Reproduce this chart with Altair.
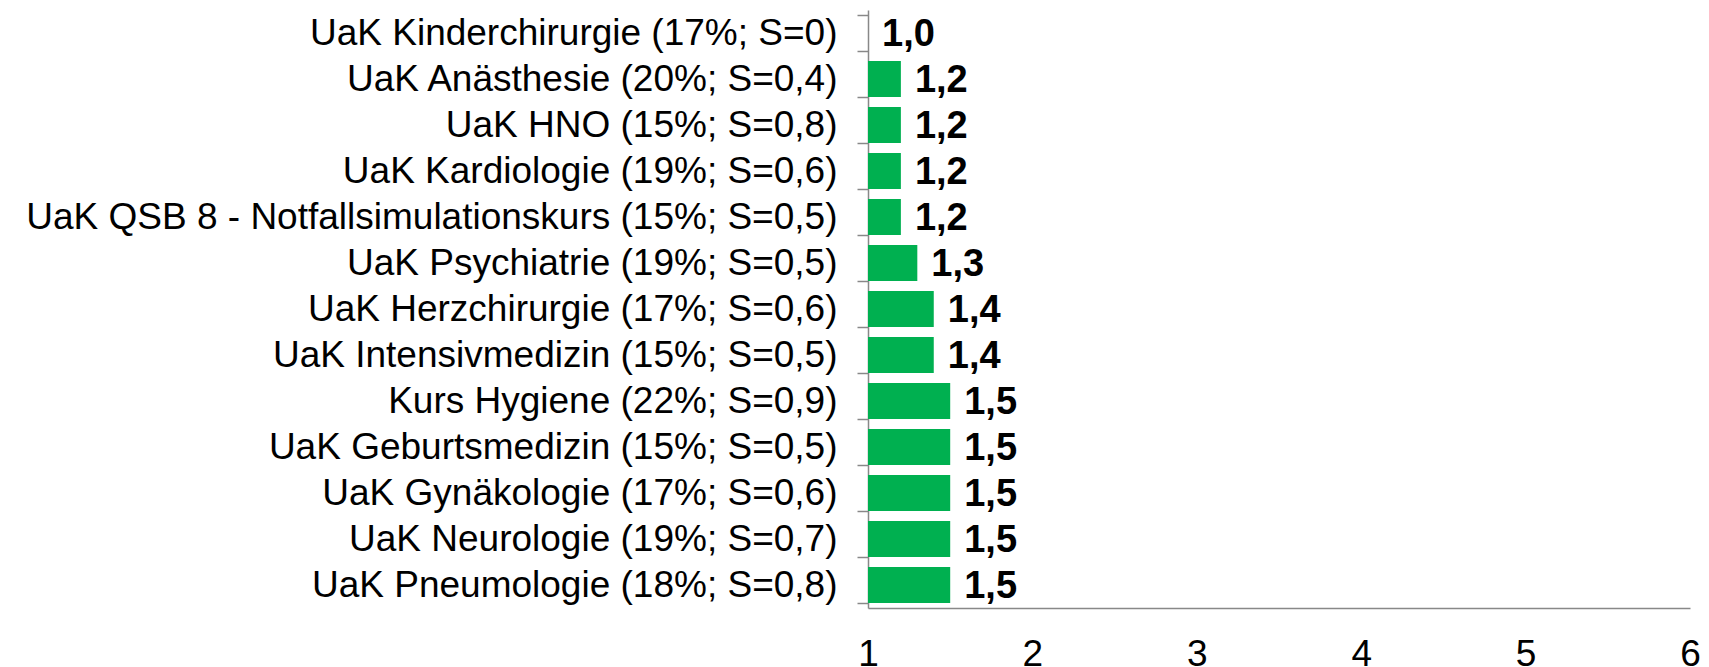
import altair as alt
import pandas as pd

categories = [
    "UaK Kinderchirurgie (17%; S=0)",
    "UaK Anästhesie (20%; S=0,4)",
    "UaK HNO (15%; S=0,8)",
    "UaK Kardiologie (19%; S=0,6)",
    "UaK QSB 8 - Notfallsimulationskurs (15%; S=0,5)",
    "UaK Psychiatrie (19%; S=0,5)",
    "UaK Herzchirurgie (17%; S=0,6)",
    "UaK Intensivmedizin (15%; S=0,5)",
    "Kurs Hygiene (22%; S=0,9)",
    "UaK Geburtsmedizin (15%; S=0,5)",
    "UaK Gynäkologie (17%; S=0,6)",
    "UaK Neurologie (19%; S=0,7)",
    "UaK Pneumologie (18%; S=0,8)",
]
values = [1.0, 1.2, 1.2, 1.2, 1.2, 1.3, 1.4, 1.4, 1.5, 1.5, 1.5, 1.5, 1.5]
x_ticks = [1, 2, 3, 4, 5, 6]

df = pd.DataFrame({"category": categories, "value": values})

FONT = "Liberation Sans"

y_enc = alt.Y(
    "category:N",
    sort=categories,
    title=None,
    scale=alt.Scale(paddingInner=0.22, paddingOuter=0.11),
    axis=alt.Axis(
        labelFont=FONT,
        labelFontSize=37,
        labelColor="#000000",
        labelPadding=20,
        labelLimit=1000,
        tickBand="extent",
        tickSize=11,
        tickColor="#888888",
        domainColor="#888888",
        domainWidth=1.5,
        tickWidth=1.5,
    ),
)

x_enc = alt.X(
    "value:Q",
    title=None,
    scale=alt.Scale(domain=[1, 6], nice=False, zero=False),
    axis=alt.Axis(
        values=x_ticks,
        format="d",
        grid=False,
        ticks=False,
        labelFont=FONT,
        labelFontSize=37,
        labelColor="#000000",
        labelPadding=28,
        domainColor="#888888",
        domainWidth=1.5,
        labelFlush=False,
    ),
)

bars = alt.Chart(df).mark_bar(color="#00B050").encode(
    y=y_enc,
    x=x_enc,
    x2=alt.datum(1),
)

labels = (
    alt.Chart(df)
    .transform_calculate(lab="replace(format(datum.value, '.1f'), '.', ',')")
    .mark_text(
        align="left",
        baseline="middle",
        dx=14,
        dy=2,
        font=FONT,
        fontSize=38,
        fontWeight="bold",
        color="#000000",
    )
    .encode(
        y=alt.Y("category:N", sort=categories),
        x=alt.X("value:Q"),
        text="lab:N",
    )
)

chart = (
    alt.layer(bars, labels)
    .properties(
        width=822,
        height=598,
        background="white",
        autosize=alt.AutoSizeParams(type="none"),
        padding={"left": 860, "top": 2, "right": 11, "bottom": 59},
    )
    .configure_view(strokeWidth=0, stroke="transparent")
)

chart.save("out.html", embed_options={"renderer": "svg", "actions": False})
